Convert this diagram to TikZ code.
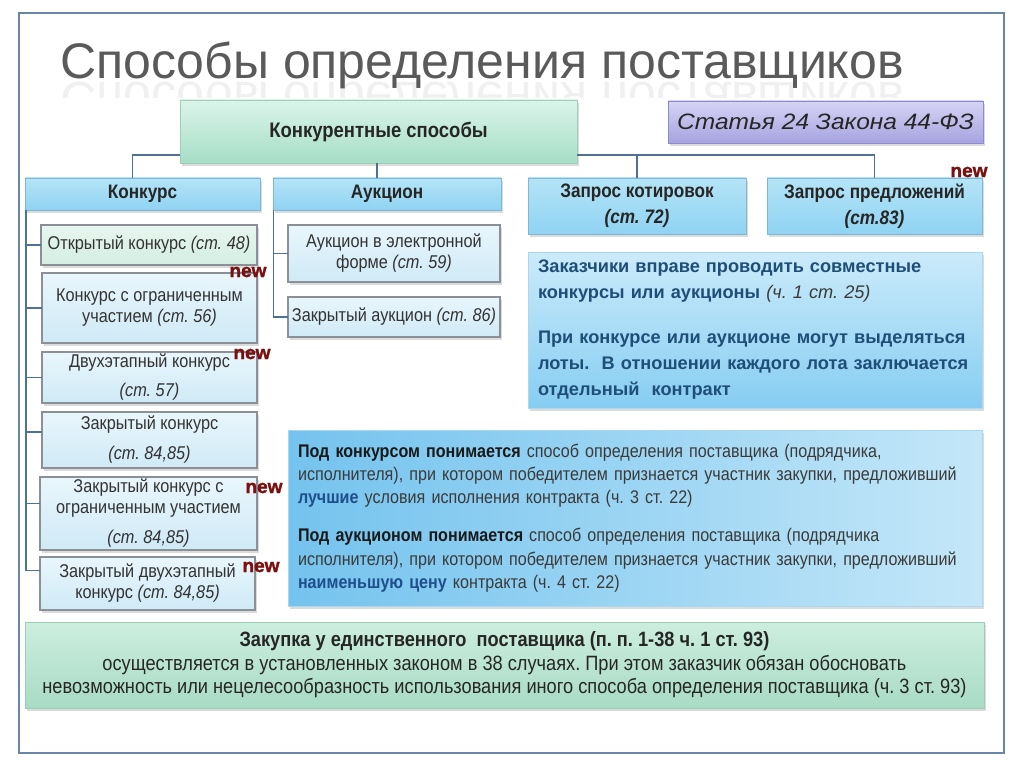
\documentclass[tikz,border=0pt]{standalone}
\usepackage{fontspec}
\setmainfont{Liberation Sans}
\newfontfamily\nar{Liberation Sans}[FakeStretch=0.88]
\newfontfamily\wid{Liberation Sans}[FakeStretch=1.1]
\newfontfamily\heavy{Liberation Sans}[FakeBold=1.5]
\frenchspacing
\usetikzlibrary{shadows}
\definecolor{framec}{HTML}{6A86A6}
\definecolor{connc}{HTML}{4F7196}
\definecolor{titlec}{HTML}{5A5A5A}
\definecolor{newc}{HTML}{7A1010}
\definecolor{infotext}{HTML}{1F4E79}
\definecolor{defblue}{HTML}{1F4E8C}
\definecolor{deftext}{HTML}{3A3A3A}
\definecolor{HTML9FCFB8}{HTML}{9FCFB8}\definecolor{HTMLDBF4EA}{HTML}{DBF4EA}\definecolor{HTMLA6DEC6}{HTML}{A6DEC6}
\definecolor{HTML8E8AD0}{HTML}{8E8AD0}\definecolor{HTMLD6D4F5}{HTML}{D6D4F5}\definecolor{HTMLA7A3DF}{HTML}{A7A3DF}
\definecolor{HTML7FB7D6}{HTML}{7FB7D6}\definecolor{HTMLB5E4F7}{HTML}{B5E4F7}\definecolor{HTML8FD3F2}{HTML}{8FD3F2}
\definecolor{HTML8A9096}{HTML}{8A9096}\definecolor{HTMLE9F6FC}{HTML}{E9F6FC}\definecolor{HTMLCFEAF6}{HTML}{CFEAF6}
\definecolor{HTMLE8F6F0}{HTML}{E8F6F0}\definecolor{HTMLD3EEE2}{HTML}{D3EEE2}
\definecolor{HTMLA9D8F0}{HTML}{A9D8F0}\definecolor{HTMLCBEBFA}{HTML}{CBEBFA}\definecolor{HTML86CDF2}{HTML}{86CDF2}
\definecolor{HTML74C3EE}{HTML}{74C3EE}\definecolor{HTMLC4E7F8}{HTML}{C4E7F8}
\definecolor{HTML9CCDB6}{HTML}{9CCDB6}\definecolor{HTMLCDEEDF}{HTML}{CDEEDF}\definecolor{HTMLA8DBC5}{HTML}{A8DBC5}
\newcommand\fs[2]{\fontsize{#1}{#2}\selectfont}
\newcommand\bx[7]{\node[#1,minimum width={(#4-#2)*1pt},minimum height={(#5-#3)*1pt}] (#6) at (#2,#3) {#7};}
\tikzset{
  boxbase/.style={anchor=north west, inner sep=0pt, outer sep=0pt, align=center, draw,
    drop shadow={shadow xshift=1.5pt, shadow yshift=-3pt, opacity=.28}},
  konk/.style={boxbase, draw=HTML9FCFB8, top color=HTMLDBF4EA, bottom color=HTMLA6DEC6,
    font=\nar\bfseries\fs{21}{25}, text=black!85},
  stat/.style={boxbase, draw=HTML8E8AD0, top color=HTMLD6D4F5, bottom color=HTMLA7A3DF,
    font=\wid\itshape\fs{22.3}{27}, text=black!85},
  topbox/.style={boxbase, draw=HTML7FB7D6, top color=HTMLB5E4F7, bottom color=HTML8FD3F2,
    font=\nar\bfseries\fs{19.5}{26}, text=black!85},
  subbox/.style={boxbase, draw=HTML8A9096, line width=1.1pt, top color=HTMLE9F6FC, bottom color=HTMLCFEAF6,
    font=\nar\fs{18.5}{21}, text=black!80},
  openbox/.style={subbox, top color=HTMLE8F6F0, bottom color=HTMLD3EEE2},
  infoa/.style={boxbase, draw=HTMLA9D8F0, top color=HTMLCBEBFA, bottom color=HTML86CDF2,
    font=\bfseries\fs{18.2}{26}, text=infotext, align=left, text width=434pt},
  infob/.style={boxbase, draw=HTMLA9D8F0, left color=HTML74C3EE, right color=HTMLC4E7F8,
    font=\nar\fs{18.3}{23.3}, text=deftext, align=left, text width=674pt},
  bottombox/.style={boxbase, draw=HTML9CCDB6, top color=HTMLCDEEDF, bottom color=HTMLA8DBC5,
    font=\nar\fs{20.7}{23.5}, text=black!85},
  newl/.style={font=\heavy\bfseries\fs{19}{19}, text=newc, inner sep=0pt},
  conn/.style={draw=connc, line width=1.5pt},
}
\begin{document}
\begin{tikzpicture}[x=1pt,y=-1pt]
\useasboundingbox (0,0) rectangle (1024,767);
\fill[white] (0,0) rectangle (1024,767);
\draw[framec, line width=1.6pt] (19,13) rectangle (1004,753);
% title and its reflection
\node[anchor=base west, inner sep=0pt, font=\fs{50}{50}, text=titlec] (title) at (60,79) {Способы определения поставщиков};
\begin{scope}
\clip (40,81) rectangle (960,98);
\node[anchor=base west, inner sep=0pt, font=\fs{50}{50}, text=titlec, text opacity=.09, yscale=-1, transform shape] (titlerefl) at (60,83) {Способы определения поставщиков};
\end{scope}
\coordinate (bus) at (0,155);
\coordinate (lt) at (26,210);
\coordinate (at) at (273.5,210);
% boxes
\bx{konk}{180}{100}{577}{163}{konkst}{Конкурентные способы}
\bx{stat}{668}{101}{983}{143}{statst}{Статья 24 Закона 44-ФЗ}
\bx{topbox}{25}{178}{260}{210}{konkurs}{Конкурс}
\bx{topbox}{273}{178}{501}{210}{auk}{Аукцион}
\bx{topbox}{528}{178}{746}{234}{zk}{Запрос котировок\\\itshape(ст. 72)}
\bx{topbox}{767}{178}{982}{234}{zp}{Запрос предложений\\\itshape(ст.83)}
\bx{openbox}{41}{225}{257}{265}{b1}{Открытый конкурс \textit{(ст. 48)}}
\bx{subbox}{42}{273}{257}{343}{b2}{Конкурс с ограниченным\\участием \textit{(ст. 56)}}
\bx{subbox}{42}{352}{257}{403}{b3}{Двухэтапный конкурс\\[8pt]\textit{(ст. 57)}}
\bx{subbox}{42}{412}{257}{468}{b4}{Закрытый конкурс\\[9pt]\textit{(ст. 84,85)}}
\bx{subbox}{40}{477}{257}{550}{b5}{Закрытый конкурс с\\ограниченным участием\\[9pt]\textit{(ст. 84,85)}}
\bx{subbox}{40}{557}{255}{610}{b6}{Закрытый двухэтапный\\конкурс \textit{(ст. 84,85)}}
\bx{subbox}{288}{225}{500}{282}{a1}{Аукцион в электронной\\форме \textit{(ст. 59)}}
\bx{subbox}{288}{297}{500}{337}{a2}{Закрытый аукцион \textit{(ст. 86)}}
\bx{infoa}{528}{252}{982}{408}{info1}{Заказчики вправе проводить совместные\\конкурсы или аукционы {\mdseries\itshape\color{deftext}(ч. 1 ст. 25)}\\[19pt]При конкурсе или аукционе могут выделяться\\лоты.\ \ В отношении каждого лота заключается\\отдельный\ \ контракт}
\bx{infob}{288}{430}{982}{606}{info2}{{\bfseries\color{black!90}Под конкурсом понимается} способ определения поставщика (подрядчика,\\исполнителя), при котором победителем признается участник закупки, предложивший\\{\bfseries\color{defblue}лучшие} условия исполнения контракта (ч. 3 ст. 22)\\[15pt]{\bfseries\color{black!90}Под аукционом понимается} способ определения поставщика (подрядчика\\исполнителя), при котором победителем признается участник закупки, предложивший\\{\bfseries\color{defblue}наименьшую цену} контракта (ч. 4 ст. 22)}
\bx{bottombox}{25}{622}{984}{708}{sole}{{\bfseries Закупка у единственного\ \ поставщика (п. п. 1-38 ч. 1 ст. 93)}\\осуществляется в установленных законом в 38 случаях. При этом заказчик обязан обосновать\\невозможность или нецелесообразность использования иного способа определения поставщика (ч. 3 ст. 93)}
% new labels
\node[newl] (new0) at (969,172) {new};
\node[newl] (new1) at (248,272) {new};
\node[newl] (new2) at (252,354) {new};
\node[newl] (new3) at (264,488) {new};
\node[newl] (new4) at (261,567) {new};
% connectors
\draw[conn] ([xshift=-10pt]konkurs.north) |- (konkst.west |- bus);
\draw[conn] (konkst.east |- bus) -| (zp.north);
\draw[conn] (zk.north |- bus) -- (zk.north);
\draw[conn] ([xshift=-10pt]auk.north |- konkst.south) -- ([xshift=-10pt]auk.north);
\draw[conn] (lt) |- ([yshift=13pt]b6.west);
\draw[conn] (lt |- b1.west) -- (b1.west);
\draw[conn] (lt |- b2.west) -- (b2.west);
\draw[conn] (lt |- b3.west) -- (b3.west);
\draw[conn] ([yshift=8pt]b4.west -| lt) -- ([yshift=8pt]b4.west);
\draw[conn] ([yshift=10pt]b5.west -| lt) -- ([yshift=10pt]b5.west);
\draw[conn] (at) |- (a2.west);
\draw[conn] (at |- a1.west) -- (a1.west);
\end{tikzpicture}
\end{document}
